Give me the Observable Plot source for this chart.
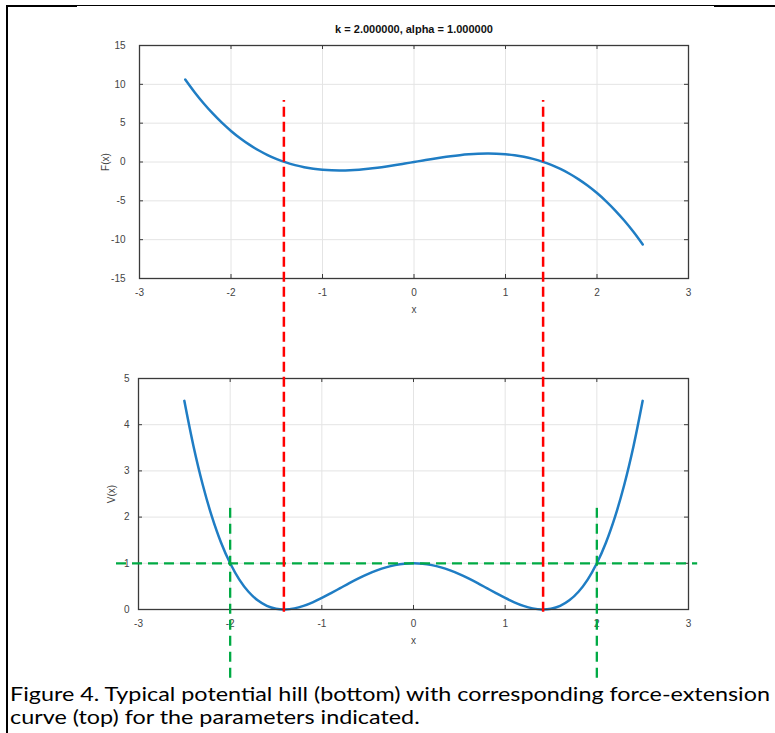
<!DOCTYPE html>
<html>
<head>
<meta charset="utf-8">
<script src="https://cdn.jsdelivr.net/npm/d3@7"></script>
<script src="https://cdn.jsdelivr.net/npm/@observablehq/plot@0.6"></script>
<style>
  body { margin: 0; background: #fff; }
  #fig { position: relative; width: 775px; height: 733px; overflow: hidden; background: #fff; }
  #fig svg { position: absolute; left: 0; overflow: visible; }
  .bar { position: absolute; background: #000; }
  .cap { position: absolute; left: 10px; white-space: nowrap; font-family: Lato, "Noto Sans", sans-serif; font-size: 19.5px; color: #000; transform-origin: 0 50%; line-height: 1; }
</style>
</head>
<body>
<div id="fig"></div>
<script>
// ---- data ----
const xValues = [-2.5,-2.4,-2.3,-2.2,-2.1,-2.0,-1.9,-1.8,-1.7,-1.6,-1.5,-1.4,-1.3,-1.2,-1.1,-1.0,-0.9,-0.8,-0.7,-0.6,-0.5,-0.4,-0.3,-0.2,-0.1,0,
  0.1,0.2,0.3,0.4,0.5,0.6,0.7,0.8,0.9,1.0,1.1,1.2,1.3,1.4,1.5,1.6,1.7,1.8,1.9,2.0,2.1,2.2,2.3,2.4,2.5];
const forceValues = [10.625,9.024,7.567,6.248,5.061,4.0,3.059,2.232,1.513,0.896,0.375,-0.056,-0.403,-0.672,-0.869,-1.0,-1.071,-1.088,-1.057,-0.984,-0.875,-0.736,-0.573,-0.392,-0.199,0,
  0.199,0.392,0.573,0.736,0.875,0.984,1.057,1.088,1.071,1.0,0.869,0.672,0.403,0.056,-0.375,-0.896,-1.513,-2.232,-3.059,-4.0,-5.061,-6.248,-7.567,-9.024,-10.625];
const potentialValues = [4.516,3.534,2.706,2.016,1.452,1.0,0.648,0.384,0.198,0.078,0.016,0.0004,0.024,0.078,0.156,0.25,0.354,0.462,0.570,0.672,0.766,0.846,0.912,0.960,0.990,1.0,
  0.990,0.960,0.912,0.846,0.766,0.672,0.570,0.462,0.354,0.25,0.156,0.078,0.024,0.0004,0.016,0.078,0.198,0.384,0.648,1.0,1.452,2.016,2.706,3.534,4.516];
const xTicks = [-3,-2,-1,0,1,2,3];
const forceTicks = [-15,-10,-5,0,5,10,15];
const potentialTicks = [0,1,2,3,4,5];
const equilibria = [-1.414, 1.414];   // F = 0, V minima
const crossings = [-2, 2];            // V = 1 crossings
const energyLevel = [1];
const titleText = "k = 2.000000, alpha = 1.000000";
const captionLines = [
  "Figure 4. Typical potential hill (bottom) with corresponding force-extension",
  "curve (top) for the parameters indicated."
];

const rows = xValues.map((x, i) => ({x, F: forceValues[i], V: potentialValues[i]}));

const W = 775;
const fig = document.getElementById("fig");
const axisStyle = {background: "transparent", overflow: "visible", fontFamily: "'Liberation Sans', Arial, sans-serif", fontSize: "10px", color: "#444"};
const gridColor = "#e4e4e4";
const boxColor = "#3a3a3a";
const curveColor = "#1f7dc4";
const fmt = d => String(d);

function boxTicks(xt, yt, fw, fh) {
  return [
    Plot.ruleX(xt, {stroke: boxColor, insetTop: fh - 4}),
    Plot.ruleX(xt, {stroke: boxColor, insetBottom: fh - 4}),
    Plot.ruleY(yt, {stroke: boxColor, insetLeft: fw - 4}),
    Plot.ruleY(yt, {stroke: boxColor, insetRight: fw - 4})
  ];
}

// ---- top panel: F(x) ----
const L = 139, R = 688;
const topH = 320, topT = 45, topB = 278;
const topPlot = Plot.plot({
  width: W, height: topH,
  marginLeft: L, marginRight: W - R, marginTop: topT, marginBottom: topH - topB,
  style: axisStyle,
  x: {domain: [-3, 3], ticks: xTicks, tickFormat: fmt, tickSize: 0, tickPadding: 10, label: "x", labelAnchor: "center", labelOffset: 34, labelArrow: "none"},
  y: {domain: [-15, 15], ticks: forceTicks, tickFormat: fmt, tickSize: 0, tickPadding: 14, label: "F(x)", labelAnchor: "center", labelOffset: 38, labelArrow: "none"},
  marks: [
    Plot.ruleX(xTicks, {stroke: gridColor}),
    Plot.ruleY(forceTicks, {stroke: gridColor}),
    ...boxTicks(xTicks, forceTicks, R - L, topB - topT),
    Plot.line(rows, {x: "x", y: "F", stroke: curveColor, strokeWidth: 2.5, curve: "catmull-rom"}),
    Plot.frame({stroke: boxColor, strokeWidth: 1.3}),
    Plot.text([titleText], {text: d => d, frameAnchor: "top", dy: -20, fontWeight: "bold", fontSize: 11, fill: "#111"})
  ]
});
topPlot.style.top = "0px";
fig.appendChild(topPlot);

// ---- bottom panel: V(x) ----
const botTop = 330, botH = 350, botT = 378 - botTop, botB = 609 - botTop;
const botPlot = Plot.plot({
  width: W, height: botH,
  marginLeft: L - 1, marginRight: W - R, marginTop: botT, marginBottom: botH - botB,
  style: axisStyle,
  x: {domain: [-3, 3], ticks: xTicks, tickFormat: fmt, tickSize: 0, tickPadding: 10, label: "x", labelAnchor: "center", labelOffset: 34, labelArrow: "none"},
  y: {domain: [0, 5], ticks: potentialTicks, tickFormat: fmt, tickSize: 0, tickPadding: 9, label: "V(x)", labelAnchor: "center", labelOffset: 31, labelArrow: "none"},
  marks: [
    Plot.ruleX(xTicks, {stroke: gridColor}),
    Plot.ruleY(potentialTicks, {stroke: gridColor}),
    ...boxTicks(xTicks, potentialTicks, R - L + 1, botB - botT),
    Plot.line(rows, {x: "x", y: "V", stroke: curveColor, strokeWidth: 2.5, curve: "catmull-rom"}),
    Plot.frame({stroke: boxColor, strokeWidth: 1.3}),
    Plot.ruleY(energyLevel, {x1: -3.24, x2: 3.10, stroke: "#00aa44", strokeWidth: 2.3, strokeDasharray: "10,6"}),
    Plot.ruleX(crossings, {y1: -1.49, y2: 2.25, stroke: "#00aa44", strokeWidth: 2.3, strokeDasharray: "10,6"}),
    Plot.ruleX(equilibria, {y1: -0.06, y2: 11.02, stroke: "#ff0000", strokeWidth: 2.5, strokeDasharray: "10,5"})
  ]
});
botPlot.style.top = botTop + "px";
fig.appendChild(botPlot);

// ---- page border pieces ----
[[6,5,71,2],[77,5,637,1],[714,5,61,2],[6,5,2,728]].forEach(([l,t,w,h]) => {
  const d = document.createElement("div");
  d.className = "bar";
  Object.assign(d.style, {left: l + "px", top: t + "px", width: w + "px", height: h + "px"});
  fig.appendChild(d);
});

// ---- caption ----
const capTops = [684, 707];
const spans = captionLines.map((t, i) => {
  const d = document.createElement("div");
  d.className = "cap";
  d.textContent = t;
  d.style.top = capTops[i] + "px";
  fig.appendChild(d);
  return d;
});
const w0 = spans[0].getBoundingClientRect().width;
const s = 760 / w0;
spans.forEach(d => d.style.transform = `scaleX(${s})`);
</script>
</body>
</html>
